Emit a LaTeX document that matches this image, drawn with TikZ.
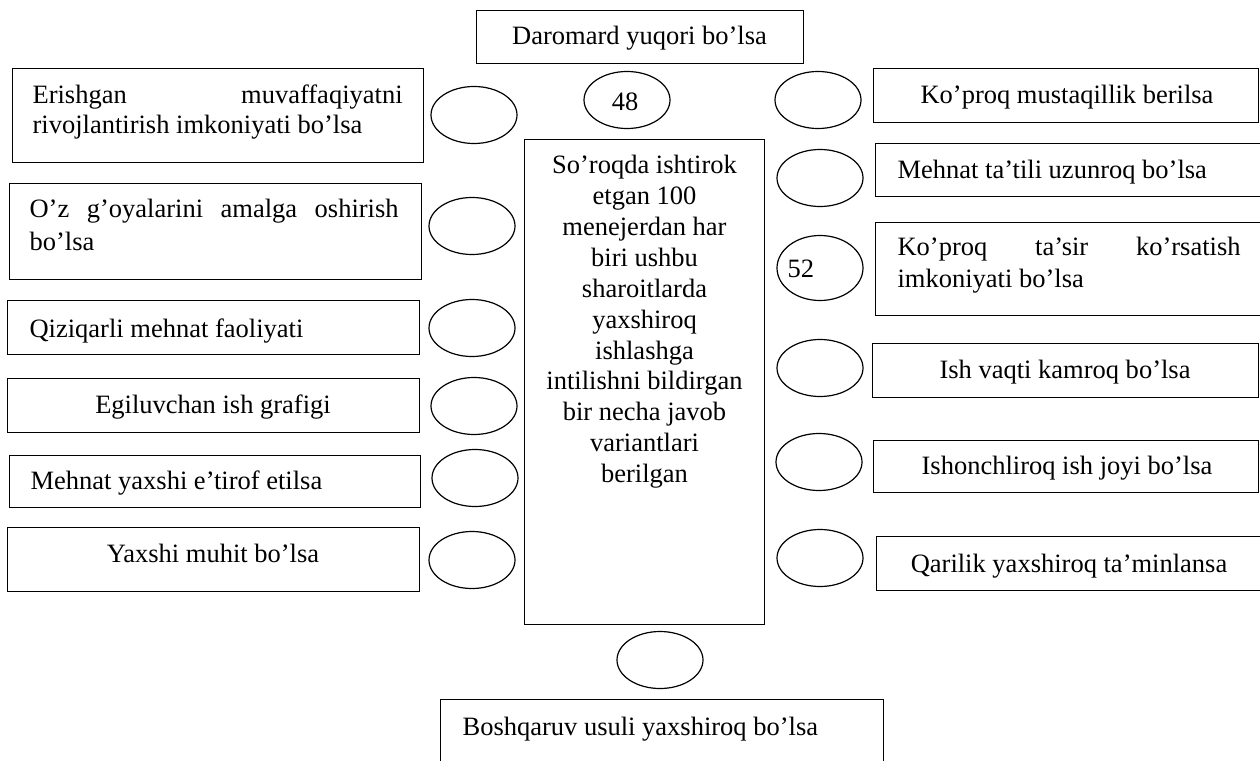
\documentclass[tikz,border=0pt]{standalone}
\usepackage{fontspec}
\setmainfont{Liberation Serif}
\usetikzlibrary{shapes.geometric}
\begin{document}
\begin{tikzpicture}[x=1pt,y=-1pt,line width=1.2pt,
  box/.style={draw,rectangle,inner sep=0pt,anchor=north west},
  oval/.style={draw,ellipse,inner sep=0pt,minimum width=86pt,minimum height=57pt},
  txt/.style={inner sep=0pt,font=\fontsize{26.5}{30.4}\selectfont},
  ctxt/.style={inner sep=0pt,font=\fontsize{26.5}{30.9}\selectfont}]
\clip (0,0) rectangle (1260,760);
% boxes
\node[box,minimum width=327pt,minimum height=53pt] (top) at (476,10) {};
\node[box,minimum width=411pt,minimum height=94pt] (l1) at (12,68) {};
\node[box,minimum width=412pt,minimum height=96pt] (l2) at (9,183) {};
\node[box,minimum width=412pt,minimum height=54pt] (l3) at (7,300) {};
\node[box,minimum width=412pt,minimum height=54pt] (l4) at (7,378) {};
\node[box,minimum width=411pt,minimum height=52pt] (l5) at (9,455) {};
\node[box,minimum width=412pt,minimum height=64pt] (l6) at (7,527) {};
\node[box,minimum width=385pt,minimum height=54pt] (r1) at (873,68) {};
\node[box,minimum width=385pt,minimum height=53pt] (r2) at (875,143) {};
\node[box,minimum width=385pt,minimum height=93pt] (r3) at (875,222) {};
\node[box,minimum width=386pt,minimum height=54pt] (r4) at (872,343) {};
\node[box,minimum width=385pt,minimum height=52pt] (r5) at (873,440) {};
\node[box,minimum width=384pt,minimum height=54pt] (r6) at (876,536) {};
\node[box,minimum width=240pt,minimum height=485pt] (ctr) at (524,139) {};
\node[box,minimum width=443pt,minimum height=80pt] (bot) at (440,699) {};
% ovals
\node[oval] (o48) at (627,100) {};
\node[oval] (ol1) at (474,115) {};
\node[oval] (ol2) at (472,226) {};
\node[oval] (ol3) at (472,328) {};
\node[oval] (ol4) at (474,406) {};
\node[oval] (ol5) at (475,478) {};
\node[oval] (ol6) at (472,560) {};
\node[oval] (or1) at (818,100) {};
\node[oval] (or2) at (820,178) {};
\node[oval,minimum height=65pt] (or3) at (820,268) {};
\node[oval] (or4) at (820,368) {};
\node[oval] (or5) at (819,462) {};
\node[oval] (or6) at (820,558) {};
\node[oval] (ob) at (660,660) {};
% texts
\node[txt,anchor=base] (ttop) at (639.5,45) {Daromard yuqori bo’lsa};
\node[txt,anchor=base] (t48) at (625,110) {48};
\node[txt,anchor=base west] (t52) at (787,277) {52};
\node[txt,align=left,anchor=north west] (tl1) at (32,81.7)
  {\strut\makebox[370pt][s]{Erishgan muvaffaqiyatni}\\rivojlantirish imkoniyati bo’lsa};
\node[txt,align=left,anchor=north west] (tl2) at (29,196)
  {\strut\makebox[369pt][s]{O’z g’oyalarini amalga oshirish}\\[2.3pt]bo’lsa};
\node[txt,anchor=base west] (tl3) at (29,337) {Qiziqarli mehnat faoliyati};
\node[txt,anchor=base] (tl4) at (213,413) {Egiluvchan ish grafigi};
\node[txt,anchor=base west] (tl5) at (30,489) {Mehnat yaxshi e’tirof etilsa};
\node[txt,anchor=base] (tl6) at (213,562) {Yaxshi muhit bo’lsa};
\node[txt,anchor=base] (tr1) at (1067,103) {Ko’proq mustaqillik berilsa};
\node[txt,anchor=base west] (tr2) at (897,178) {Mehnat ta’tili uzunroq bo’lsa};
\node[txt,align=left,anchor=north west] (tr3) at (897,233.7)
  {\strut\makebox[343pt][s]{Ko’proq ta’sir ko’rsatish}\\[1.6pt]imkoniyati bo’lsa};
\node[txt,anchor=base] (tr4) at (1065,378) {Ish vaqti kamroq bo’lsa};
\node[txt,anchor=base] (tr5) at (1067,474) {Ishonchliroq ish joyi bo’lsa};
\node[txt,anchor=base] (tr6) at (1069,572) {Qarilik yaxshiroq ta’minlansa};
\node[ctxt,align=center,anchor=north] (tc) at (644.5,151.4)
  {\strut So’roqda ishtirok\\etgan 100\\menejerdan har\\biri ushbu\\sharoitlarda\\yaxshiroq\\ishlashga\\intilishni bildirgan\\bir necha javob\\variantlari\\berilgan};
\node[txt,anchor=base west] (tb) at (462,735) {Boshqaruv usuli yaxshiroq bo’lsa};
\end{tikzpicture}
\end{document}
